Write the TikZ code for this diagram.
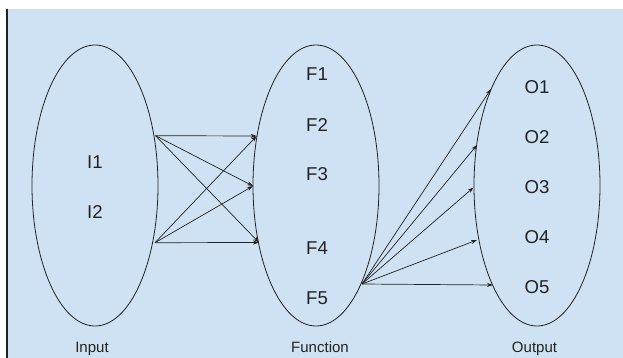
\documentclass[tikz,border=0pt]{standalone}
\usepackage{fontspec}
\setmainfont{Liberation Sans}
\usetikzlibrary{shapes.geometric,arrows.meta}
\definecolor{bgblue}{HTML}{CFE2F3}
\definecolor{inkc}{HTML}{222222}
\begin{document}
\begin{tikzpicture}[x=1pt,y=-1pt,
 setshape/.style={draw=inkc, line width=0.8pt, ellipse, minimum width=126pt, minimum height=281pt, inner sep=0pt},
 lbl/.style={font=\fontsize{18.6}{18.6}\selectfont, inner sep=0pt, text=inkc},
 caplbl/.style={font=\fontsize{15}{15}\selectfont, inner sep=0pt, anchor=base, text=inkc},
 arr/.style={draw=inkc, line width=0.7pt, -{Stealth[length=6pt,width=4pt]}}]
\useasboundingbox (0,0) rectangle (623,358);
\fill[white] (0,0) rectangle (623,358);
\fill[bgblue] (7,9) rectangle (623,358);
\draw[inkc, line width=1.3pt] (7,9) -- (7,358);
% ellipses
\node[setshape] (inset) at (95,185.5) {};
\node[setshape] (fset) at (316,185.5) {};
\node[setshape] (oset) at (537,185.5) {};
% texts
\node[lbl] (i1) at (95,162) {I1};
\node[lbl] (i2) at (95,212) {I2};
\node[lbl] (f1) at (317,74) {F1};
\node[lbl] (f2) at (317,125) {F2};
\node[lbl] (f3) at (317,174) {F3};
\node[lbl] (f4) at (317,248) {F4};
\node[lbl] (f5) at (317,298) {F5};
\node[lbl] (o1) at (537,87.5) {O1};
\node[lbl] (o2) at (537,137) {O2};
\node[lbl] (o3) at (537,187) {O3};
\node[lbl] (o4) at (537,237.5) {O4};
\node[lbl] (o5) at (537,287) {O5};
\node[caplbl] (linput) at (92,352) {Input};
\node[caplbl] (lfunc) at (320,352) {Function};
\node[caplbl] (loutput) at (534.5,352) {Output};
% connector points
\coordinate (sa) at (155.5,135.7);
\coordinate (sb) at (155,242.7);
\coordinate (ea) at (256.7,136);
\coordinate (eb) at (253,186);
\coordinate (ec) at (259,242.5);
\coordinate (sf) at (362,284);
\coordinate (p1) at (491,89);
\coordinate (p2) at (477,145);
\coordinate (p3) at (473.5,187.5);
\coordinate (p4) at (477,240);
\coordinate (p5) at (493,285);
% arrows
\draw[arr] (sa) -- (ea);
\draw[arr] (sa) -- (eb);
\draw[arr] (sa) -- (ec);
\draw[arr] (sb) -- (ea);
\draw[arr] (sb) -- (eb);
\draw[arr] (sb) -- (ec);
\draw[arr] (sf) -- (p1);
\draw[arr] (sf) -- (p2);
\draw[arr] (sf) -- (p3);
\draw[arr] (sf) -- (p4);
\draw[arr] (sf) -- (p5);
\end{tikzpicture}
\end{document}
